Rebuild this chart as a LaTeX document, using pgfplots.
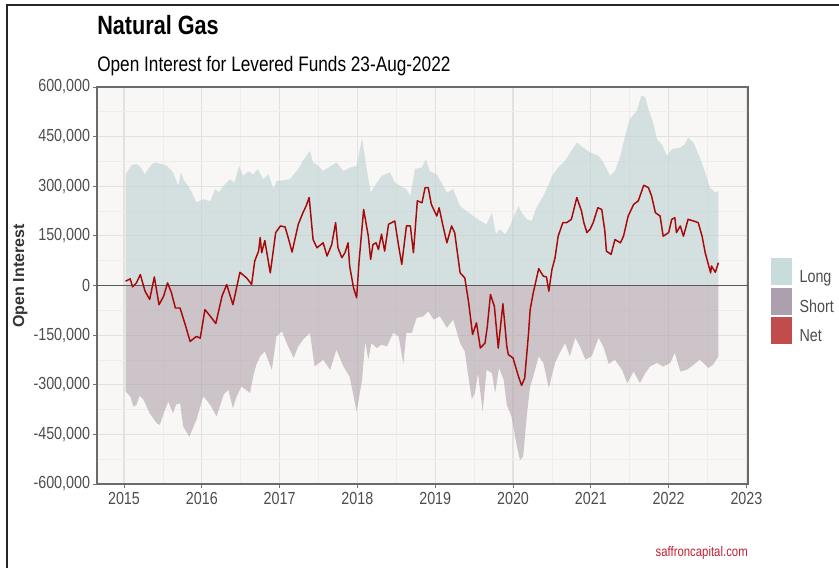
\documentclass[border=0pt]{standalone}
\usepackage{pgfplots}
\usepackage{pgfplotstable}
\pgfplotsset{compat=1.18}
\usepackage{fontspec}
\setmainfont[FakeStretch=0.82]{Liberation Sans}
\newfontfamily\widefont{Liberation Sans}
\definecolor{panelbg}{RGB}{248,247,245}
\definecolor{gmaj}{RGB}{228,226,224}
\definecolor{gmin}{RGB}{239,237,235}
\definecolor{longc}{RGB}{188,210,211}
\definecolor{shortc}{RGB}{176,162,171}
\definecolor{netc}{RGB}{168,8,8}
\definecolor{longkey}{RGB}{201,220,220}
\definecolor{shortkey}{RGB}{173,160,174}
\definecolor{netkey}{RGB}{192,76,75}
\definecolor{txt}{RGB}{77,77,77}
\definecolor{foot}{RGB}{192,32,48}

\pgfplotstableread{
year v
2015.02 336
2015.06 350
2015.10 364
2015.16 367
2015.21 358
2015.27 336
2015.31 352
2015.36 367
2015.40 372
2015.47 368
2015.55 362
2015.63 342
2015.70 301
2015.73 342
2015.77 318
2015.81 306
2015.87 282
2015.93 251
2016.02 261
2016.11 255
2016.17 291
2016.22 282
2016.28 301
2016.36 321
2016.42 311
2016.48 362
2016.53 331
2016.60 345
2016.66 336
2016.72 352
2016.79 321
2016.86 336
2016.92 291
2016.96 316
2017.05 318
2017.13 321
2017.24 352
2017.30 377
2017.39 407
2017.43 372
2017.50 362
2017.56 346
2017.65 360
2017.73 372
2017.82 346
2017.90 356
2017.99 362
2018.06 445
2018.12 352
2018.17 281
2018.25 311
2018.31 331
2018.42 342
2018.48 311
2018.55 301
2018.63 291
2018.68 271
2018.74 352
2018.83 357
2018.88 382
2018.93 346
2019.02 336
2019.08 311
2019.15 281
2019.23 291
2019.32 240
2019.40 225
2019.49 210
2019.58 195
2019.66 185
2019.73 220
2019.78 155
2019.83 170
2019.90 155
2019.96 180
2020.07 240
2020.11 220
2020.18 200
2020.24 195
2020.30 235
2020.39 271
2020.45 301
2020.50 331
2020.58 357
2020.67 377
2020.75 407
2020.82 432
2020.90 417
2020.99 402
2021.10 392
2021.16 372
2021.25 331
2021.31 346
2021.38 392
2021.44 452
2021.50 503
2021.59 528
2021.65 574
2021.70 569
2021.74 533
2021.80 493
2021.85 442
2021.91 427
2021.98 392
2022.04 412
2022.15 417
2022.21 427
2022.25 447
2022.32 432
2022.40 387
2022.47 342
2022.53 296
2022.60 281
2022.64 286
}\longtab

\pgfplotstableread{
year v
2015.02 -320
2015.08 -335
2015.12 -366
2015.16 -361
2015.20 -333
2015.25 -345
2015.33 -386
2015.42 -416
2015.46 -421
2015.52 -380
2015.57 -351
2015.63 -386
2015.67 -360
2015.72 -356
2015.76 -426
2015.84 -457
2015.93 -406
2016.02 -335
2016.11 -361
2016.19 -396
2016.24 -360
2016.28 -330
2016.34 -315
2016.40 -371
2016.44 -340
2016.51 -305
2016.62 -325
2016.66 -275
2016.70 -240
2016.75 -214
2016.81 -199
2016.90 -255
2016.96 -154
2017.03 -138
2017.09 -174
2017.18 -219
2017.24 -184
2017.30 -164
2017.39 -143
2017.45 -245
2017.56 -224
2017.65 -255
2017.73 -194
2017.82 -245
2017.90 -275
2017.99 -381
2018.06 -285
2018.10 -170
2018.14 -224
2018.18 -174
2018.25 -189
2018.31 -179
2018.38 -184
2018.46 -143
2018.53 -154
2018.59 -237
2018.63 -143
2018.70 -143
2018.76 -98
2018.85 -93
2018.91 -78
2018.98 -103
2019.06 -93
2019.15 -128
2019.23 -103
2019.32 -174
2019.38 -199
2019.42 -265
2019.47 -345
2019.51 -325
2019.55 -265
2019.61 -381
2019.66 -255
2019.73 -265
2019.77 -325
2019.82 -249
2019.88 -285
2019.92 -361
2019.98 -396
2020.05 -487
2020.09 -527
2020.13 -517
2020.18 -386
2020.22 -305
2020.26 -275
2020.33 -214
2020.39 -234
2020.46 -310
2020.54 -234
2020.60 -204
2020.67 -174
2020.73 -214
2020.80 -158
2020.86 -184
2020.93 -224
2021.01 -214
2021.10 -158
2021.16 -184
2021.23 -237
2021.31 -224
2021.40 -255
2021.47 -295
2021.55 -260
2021.63 -295
2021.70 -265
2021.76 -245
2021.85 -234
2021.93 -245
2022.02 -234
2022.08 -204
2022.15 -260
2022.23 -255
2022.32 -240
2022.40 -224
2022.51 -249
2022.57 -240
2022.64 -214
}\shorttab

\pgfplotstableread{
year v
2015.02 13
2015.08 20
2015.11 -4
2015.16 8
2015.21 33
2015.27 -17
2015.33 -42
2015.39 26
2015.45 -58
2015.51 -32
2015.56 8
2015.61 -22
2015.66 -68
2015.72 -68
2015.78 -113
2015.85 -169
2015.93 -154
2015.98 -159
2016.04 -73
2016.11 -93
2016.18 -115
2016.26 -32
2016.32 3
2016.40 -58
2016.49 40
2016.58 22
2016.64 3
2016.68 74
2016.73 104
2016.75 145
2016.77 99
2016.81 136
2016.88 38
2016.95 160
2017.01 180
2017.07 177
2017.11 145
2017.16 101
2017.24 185
2017.30 220
2017.34 240
2017.38 266
2017.43 139
2017.48 114
2017.56 129
2017.61 89
2017.67 124
2017.72 190
2017.75 114
2017.80 84
2017.84 99
2017.88 129
2017.90 59
2017.95 -7
2017.99 -37
2018.02 69
2018.08 230
2018.14 149
2018.17 79
2018.20 124
2018.24 129
2018.27 109
2018.31 155
2018.35 104
2018.40 185
2018.48 195
2018.53 119
2018.57 64
2018.63 180
2018.68 180
2018.72 99
2018.77 256
2018.83 250
2018.87 296
2018.91 296
2018.95 245
2019.02 210
2019.05 235
2019.10 180
2019.15 129
2019.21 180
2019.25 160
2019.32 38
2019.38 23
2019.43 -52
2019.48 -148
2019.53 -113
2019.58 -189
2019.64 -174
2019.67 -123
2019.71 -27
2019.76 -63
2019.81 -189
2019.87 -55
2019.92 -184
2019.94 -209
2020.00 -219
2020.07 -275
2020.11 -302
2020.15 -280
2020.20 -143
2020.22 -73
2020.26 -22
2020.33 51
2020.39 28
2020.43 26
2020.46 -17
2020.50 48
2020.54 84
2020.58 149
2020.64 190
2020.69 190
2020.75 200
2020.82 266
2020.88 225
2020.91 190
2020.95 160
2020.99 170
2021.03 190
2021.09 235
2021.14 230
2021.18 165
2021.20 104
2021.26 94
2021.31 139
2021.38 129
2021.42 149
2021.48 210
2021.55 245
2021.61 256
2021.64 276
2021.68 303
2021.74 296
2021.78 271
2021.83 220
2021.89 210
2021.93 149
2022.00 160
2022.04 200
2022.08 205
2022.10 160
2022.15 180
2022.19 149
2022.25 200
2022.32 195
2022.38 190
2022.43 149
2022.47 99
2022.54 38
2022.55 59
2022.60 40
2022.64 69
}\nettab

\begin{document}
\begin{tikzpicture}[x=0.75pt,y=0.75pt]
\path[use as bounding box] (0,0) rectangle (839,568);
\draw[line width=1.1pt, black!85] (7,0) -- (7,563) -- (839,563);
\node[anchor=base west, inner sep=0pt] at (97,533) {\fontsize{19.8}{22}\selectfont\bfseries Natural Gas};
\node[anchor=base west, inner sep=0pt] at (97,496) {\fontsize{15.75}{18}\selectfont Open Interest for Levered Funds 23-Aug-2022};
\node[anchor=base east, inner sep=0pt, text=foot] at (748,12) {\fontsize{10.4}{12}\selectfont saffroncapital.com};
\begin{axis}[
  at={(72.75pt,63pt)}, anchor=south west, scale only axis,
  width=488.25pt, height=297.75pt,
  xmin=2014.653, xmax=2023.02, ymin=-600, ymax=600,
  xtick={2015,2016,2017,2018,2019,2020,2021,2022,2023},
  xticklabels={2015,2016,2017,2018,2019,2020,2021,2022,2023},
  ytick={-600,-450,-300,-150,0,150,300,450,600},
  yticklabels={{-600,000},{-450,000},{-300,000},{-150,000},0,{150,000},{300,000},{450,000},{600,000}},
  minor x tick num=1, minor y tick num=1,
  grid=both,
  major grid style={gmaj, line width=0.8pt},
  minor grid style={gmin, line width=0.55pt},
  minor tick length=0pt, major tick length=3pt, tick align=outside,
  tick style={black!55, line width=0.6pt},
  xtick pos=lower, ytick pos=left,
  axis background/.style={fill=panelbg},
  axis line style={black!58, line width=0.8pt},
  ticklabel style={font=\fontsize{13.1}{15}\selectfont, text=txt},
  yticklabel style={inner xsep=2pt},
  ylabel={Open Interest},
  ylabel style={font=\widefont\bfseries\fontsize{12}{14}\selectfont, text=black!80,
     at={(axis description cs:-0.118,0.524)}, anchor=center},
  legend style={at={(axis description cs:1.035,0.461)}, anchor=west, draw=none, fill=none,
     font=\fontsize{13.1}{15}\selectfont, text=txt, row sep=2.2pt, inner sep=0pt,
     nodes={inner sep=0pt}, /tikz/every odd column/.style={column sep=6pt}},
  legend cell align=left,
]
\addlegendimage{legend image code/.code={\fill[longkey] (0pt,-5.05pt) rectangle (15pt,14.45pt);}}
\addlegendentry{Long}
\addlegendimage{legend image code/.code={\fill[shortkey] (0pt,-5.05pt) rectangle (15pt,14.45pt);}}
\addlegendentry{Short}
\addlegendimage{legend image code/.code={\fill[netkey] (0pt,-5.05pt) rectangle (15pt,14.45pt);}}
\addlegendentry{Net}
\addplot[draw=none, fill=longc, fill opacity=0.6, forget plot] table[x=year,y=v] {\longtab} \closedcycle;
\addplot[draw=none, fill=shortc, fill opacity=0.6, forget plot] table[x=year,y=v] {\shorttab} \closedcycle;
\addplot[black!65, line width=0.8pt, forget plot] coordinates {(2014.653,0) (2023.02,0)};
\addplot[netc, line width=1.1pt, line join=round, forget plot] table[x=year,y=v] {\nettab};
\end{axis}
\end{tikzpicture}
\end{document}
